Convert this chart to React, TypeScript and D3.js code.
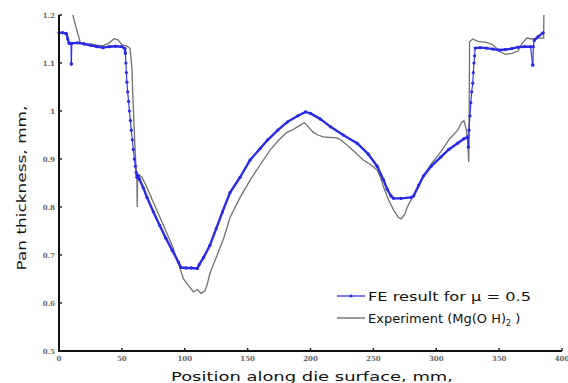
import React from "react";
import * as d3 from "d3";

const xTicks = [0, 50, 100, 150, 200, 250, 300, 350, 400];
const yTicks = [0.5, 0.6, 0.7, 0.8, 0.9, 1, 1.1, 1.2];
const yTickLabels = ["0.5", "0.6", "0.7", "0.8", "0.9", "1", "1.1", "1.2"];

const feX = [0, 3, 6, 7, 8, 9.5, 9.7, 9.9, 10.2, 15, 20, 25, 30, 35, 40, 45, 50, 52.4,
  52.8, 53.2, 53.6, 54.0, 54.6, 55.3, 56.0, 56.8, 57.5, 58.3, 59.1, 59.9, 60.7, 61.4, 62, 62.8,
  64, 67, 70, 75, 80, 85, 90, 95, 97, 101, 105, 110, 111.5, 115, 120, 125, 130, 136, 144, 152,
  160, 166, 174, 181.5, 190, 196, 200, 208, 216, 226, 237, 246, 253, 258, 261, 264, 266, 272,
  280, 282, 286, 290, 296, 303.6, 310, 317, 322, 325, 325.4, 325.7, 326, 326.8, 327.5, 328.2,
  329, 329.5, 330, 330.5, 331, 335, 340, 345, 350, 355, 360, 365, 370, 375, 376.6, 376.9, 377.2,
  378, 381, 385];
const feY = [1.163, 1.163, 1.161, 1.15, 1.141, 1.141, 1.098, 1.098, 1.141, 1.142, 1.14, 1.137, 1.134, 1.132, 1.134, 1.135, 1.134, 1.13,
  1.12, 1.10, 1.08, 1.06, 1.04, 1.02, 1.0, 0.98, 0.96, 0.94, 0.92, 0.9, 0.885, 0.872, 0.862, 0.866,
  0.858, 0.84, 0.82, 0.79, 0.762, 0.735, 0.71, 0.685, 0.674, 0.673, 0.673, 0.672, 0.68, 0.695, 0.72, 0.755, 0.79, 0.83, 0.862, 0.898,
  0.922, 0.94, 0.96, 0.977, 0.99, 0.998, 0.995, 0.983, 0.967, 0.95, 0.933, 0.91, 0.885, 0.857, 0.837, 0.823, 0.818, 0.818,
  0.82, 0.823, 0.845, 0.865, 0.885, 0.904, 0.92, 0.933, 0.942, 0.946, 0.925, 0.925, 0.96, 0.99, 1.017, 1.04,
  1.058, 1.08, 1.1, 1.115, 1.131, 1.132, 1.131, 1.129, 1.127, 1.128, 1.13, 1.133, 1.134, 1.134, 1.096, 1.096, 1.134,
  1.147, 1.155, 1.163];

const exX = [11, 14, 17, 20, 25, 30, 35, 40, 44, 47, 50, 54, 56.5, 58, 58.6, 59.5, 60.5, 61.5, 62, 62.2, 62.5,
  64, 66, 70, 75, 80, 85, 90, 95, 99, 103, 107, 110, 113, 116, 118, 120, 125, 131, 136, 144, 152, 160, 168,
  175, 181.5, 186, 189.6, 193, 195, 198, 202, 206, 210, 215, 221, 225, 229, 235, 242, 248, 253, 256, 258,
  262, 266, 270, 272, 275, 277, 281, 285, 290, 296, 303.6, 310, 317, 320, 322, 324, 325.2, 325.8, 326.2,
  326.5, 329, 333, 340, 345, 350, 355, 360, 365, 368, 372, 376, 380, 385.4, 385.6];
const exY = [1.2, 1.17, 1.142, 1.138, 1.14, 1.137, 1.136, 1.142, 1.151, 1.148, 1.138, 1.135, 1.13, 1.09, 1.04, 0.98, 0.92, 0.87, 0.855, 0.8, 0.855,
  0.866, 0.862, 0.84, 0.81, 0.78, 0.75, 0.72, 0.682, 0.65, 0.636, 0.623, 0.628, 0.62, 0.625, 0.64, 0.662, 0.695, 0.735, 0.778, 0.82, 0.856, 0.888, 0.919,
  0.94, 0.956, 0.961, 0.967, 0.972, 0.976, 0.968, 0.956, 0.95, 0.946, 0.945, 0.944, 0.938, 0.929, 0.915, 0.898, 0.888, 0.877, 0.86, 0.842,
  0.815, 0.794, 0.778, 0.775, 0.785, 0.8, 0.82, 0.84, 0.865, 0.89, 0.915, 0.94, 0.96, 0.975, 0.98, 0.96, 0.93, 0.894, 1.0,
  1.144, 1.15, 1.145, 1.143, 1.138, 1.125, 1.118, 1.12, 1.125, 1.14, 1.152, 1.15, 1.152, 1.152, 1.2];

const W = 568;
const H = 383;

export default function App() {
  const x = d3.scaleLinear().domain([0, 400]).range([59, 562]);
  const y = d3.scaleLinear().domain([0.5, 1.2]).range([351, 15]);

  const fe = feX.map((v, i) => [v, feY[i]] as [number, number]);
  const ex = exX.map((v, i) => [v, exY[i]] as [number, number]);
  const line = d3
    .line<[number, number]>()
    .x((d) => x(d[0]))
    .y((d) => y(d[1]));

  const blue = "#2a2ae6";
  const gray = "#707070";
  const font = "'DejaVu Sans', Verdana, sans-serif";

  // segments of the FE line: steep ones drawn thin so their markers show as dots
  const segs = fe.slice(1).map((d, i) => {
    const a = fe[i];
    const dx = Math.abs(x(d[0]) - x(a[0]));
    const dy = Math.abs(y(d[1]) - y(a[1]));
    const steep = dy > 4 * Math.max(dx, 0.01) && dy > 6;
    return { a, b: d, w: steep ? 1.1 : 2.4 };
  });

  return (
    <svg
      width={W}
      height={H}
      style={{ position: "absolute", left: 0, top: 0, background: "#fff" }}
    >
      <rect x={0} y={0} width={W} height={H} fill="#fff" />
      {/* data */}
      <path d={line(ex) || ""} fill="none" stroke={gray} strokeWidth={1.3} />
      {segs.map((s, i) => (
        <line
          key={"s" + i}
          x1={x(s.a[0])}
          y1={y(s.a[1])}
          x2={x(s.b[0])}
          y2={y(s.b[1])}
          stroke={blue}
          strokeWidth={s.w}
          strokeLinecap="round"
        />
      ))}
      {fe.map((d, i) => (
        <circle key={i} cx={x(d[0])} cy={y(d[1])} r={1.6} fill={blue} />
      ))}

      {/* axes */}
      <line x1={x(0)} x2={x(0)} y1={y(1.2)} y2={y(0.5)} stroke="#111" strokeWidth={2} />
      <line x1={x(0) - 1} x2={x(400)} y1={y(0.5)} y2={y(0.5)} stroke="#111" strokeWidth={2} />
      {yTicks.map((t, i) => (
        <g key={"y" + i}>
          <line x1={x(0)} x2={x(0) + 3} y1={y(t)} y2={y(t)} stroke="#222" strokeWidth={1.5} />
          <text
            x={x(0) - 4}
            y={y(t) + 2.5}
            textAnchor="end"
            fontSize={7}
            fontWeight="bold"
            fill="#666"
            fontFamily="'DejaVu Serif', serif"
          >
            {yTickLabels[i]}
          </text>
        </g>
      ))}
      {xTicks.map((t, i) => (
        <g key={"x" + i}>
          <line x1={x(t)} x2={x(t)} y1={y(0.5)} y2={y(0.5) - 3} stroke="#222" strokeWidth={1.5} />
          <text
            x={x(t)}
            y={y(0.5) + 10}
            textAnchor="middle"
            fontSize={7}
            fontWeight="bold"
            fill="#666"
            fontFamily="'DejaVu Serif', serif"
          >
            {t}
          </text>
        </g>
      ))}

      {/* axis labels */}
      <text
        x={312}
        y={381}
        textAnchor="middle"
        fontSize={13}
        fontFamily={font}
        fill="#111"
        textLength={282}
        lengthAdjust="spacingAndGlyphs"
      >
        Position along die surface, mm,
      </text>
      <text
        transform={`translate(26,188) rotate(-90)`}
        textAnchor="middle"
        fontSize={13}
        fontFamily={font}
        fill="#111"
        textLength={165}
        lengthAdjust="spacingAndGlyphs"
      >
        Pan thickness, mm,
      </text>

      {/* legend */}
      <line x1={337} x2={365} y1={296} y2={296} stroke={blue} strokeWidth={1.2} />
      <circle cx={351} cy={296} r={1.6} fill={blue} />
      <text x={368} y={301} fontSize={13} fontFamily={font} fill="#111" textLength={163} lengthAdjust="spacingAndGlyphs">
        FE result for μ = 0.5
      </text>
      <line x1={337} x2={365} y1={318} y2={318} stroke={gray} strokeWidth={1.4} />
      <text x={368} y={323} fontSize={13} fontFamily={font} fill="#111">
        Experiment (Mg(O H)
        <tspan fontSize={8} dy={3}>2</tspan>
        <tspan dy={-3}> )</tspan>
      </text>
    </svg>
  );
}
